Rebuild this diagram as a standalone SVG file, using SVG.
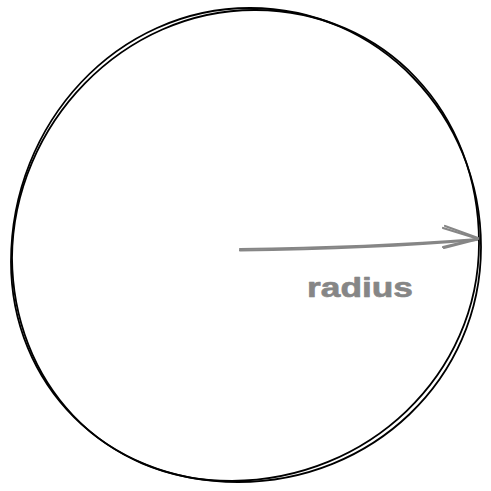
<svg xmlns="http://www.w3.org/2000/svg" width="491" height="491" viewBox="0 0 491 491">
  <style>
    .outline { fill: none; stroke: #000; stroke-width: 1.8; stroke-linecap: round; stroke-linejoin: round; }
    .arrow { fill: none; stroke: #868686; stroke-width: 2.2; stroke-linecap: round; stroke-linejoin: round; }
    .label { font-family: "Liberation Sans", sans-serif; font-size: 27px; font-weight: bold; fill: #868686; stroke: #868686; stroke-width: 0.6; stroke-linejoin: round; }
  </style>
  <rect width="491" height="491" fill="#fff"/>
  <g id="circle">
    <path class="outline" d="M250 8 C378 8 481 115 481 247 C481 379 372 482 238 482 C104 482 11 383 11 262 C11 122 118 8 250 8 Z"/>
    <path class="outline" d="M256 10 C385 11 479 112 479 243 C479 375 368 480 232 481 C100 481 13 380 12 258 C13 124 124 9 256 10"/>
  </g>
  <g id="connectors">
    <path class="arrow" d="M240 249 C320 248 400 245 478 239"/>
    <path class="arrow" d="M240 250.5 C320 249.5 400 246.5 477 240"/>
    <path class="arrow" d="M443 228 L477 238.5 M444 248 L477 239.5"/>
    <path class="arrow" d="M445 226 L478 238 M443 247 L478 238.5"/>
  </g>
  <g id="label-radius">
    <text class="label" x="307" y="297" textLength="106" lengthAdjust="spacingAndGlyphs">radius</text>
  </g>
</svg>
